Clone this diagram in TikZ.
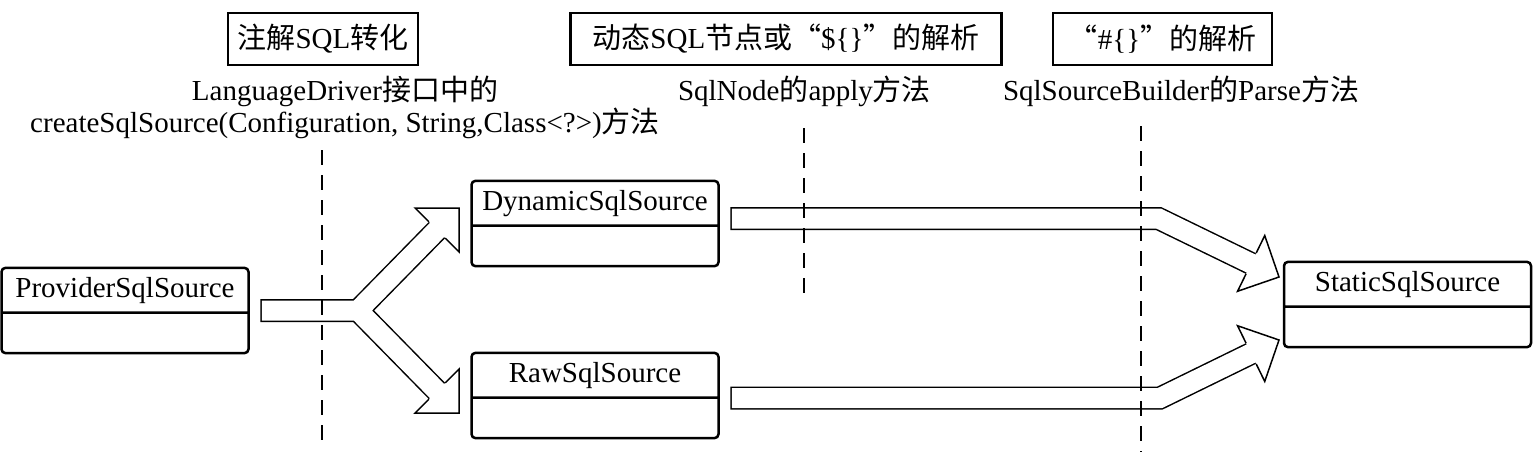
\documentclass[tikz,border=0pt]{standalone}
\usepackage{fontspec}
\setmainfont{Liberation Serif}
\newfontfamily\cjk{Noto Sans CJK SC}
\usetikzlibrary{shapes.multipart,calc}

\begin{document}
\begin{tikzpicture}[x=0.5pt, y=-0.5pt, font=\fontsize{14.5pt}{16pt}\selectfont,
  cls/.style = {draw, line width=1.25pt, rounded corners=2pt, rectangle split, rectangle split parts=2, minimum width=123.5pt, inner ysep=4pt, rectangle split empty part height=11pt},
  tag/.style = {draw, line width=1.25pt, minimum height=26pt, inner sep=0pt},
  fat/.style = {draw, line width=0.75pt, double, double distance=10pt, line cap=rect},
  head/.style = {line width=0.75pt},
  sep/.style = {line width=0.75pt, dash pattern=on 7.5pt off 5pt}]
\useasboundingbox (0,0) rectangle (1536,456);

% classes
\node[cls] (prov) at (125,310.5) {ProviderSqlSource};
\node[cls] (dyn) at (595,223.5) {DynamicSqlSource};
\node[cls] (raw) at (595,395.5) {RawSqlSource};
\node[cls] (stat) at (1407.5,304.5) {StaticSqlSource};

% stages
\node[tag, minimum width=95pt] (t1) at (323,39) {{\cjk 注解}SQL{\cjk 转化}};
\node[tag, minimum width=215.5pt] (t2) at (786,39) {{\cjk 动态}SQL{\cjk 节点或“}\$\{\}{\cjk ”的解析}};
\node[tag, minimum width=109.5pt] (t3) at (1162.5,39) {{\cjk “}\#\{\}{\cjk ”的解析}};
\node[anchor=base, align=center] (m1) at (345,132) {LanguageDriver{\cjk 接口中的}\\createSqlSource(Configuration, String,Class<?>){\cjk 方法}};
\node[anchor=base] (m2) at (804.5,100) {SqlNode{\cjk 的}apply{\cjk 方法}};
\node[anchor=base] (m3) at (1181,100) {SqlSourceBuilder{\cjk 的}Parse{\cjk 方法}};

% fat arrows
\coordinate (p0) at ($(prov.east)+(22,0)$);
\coordinate (fk) at (358,310.5);
\coordinate (d1) at (437,230);
\coordinate (dtip) at (459,208);
\coordinate (r1) at (437,391);
\coordinate (rtip) at (459,413);
\draw[fat] (p0) -- (fk) -- (d1) (p0) -- (fk) -- (r1);

\coordinate (s0) at ($(dyn.east)+(22,-5)$);
\coordinate (sb) at (1158.5,218.5);
\coordinate (s1) at (1251,263.5);
\coordinate (stip) at (1279,277);
\draw[fat] (s0) -- (sb) -- (s1);

\coordinate (q0) at ($(raw.east)+(22,2.5)$);
\coordinate (qb) at (1160,398);
\coordinate (q1) at (1251,353.5);
\coordinate (qtip) at (1279,340);
\draw[fat] (q0) -- (qb) -- (q1);

\foreach \t/\a in {dtip/45, rtip/-45, stip/-26, qtip/26}{
  \begin{scope}[shift={(\t)}, rotate=\a]
    \fill[white] (0,0) -- (-31,31) -- (-31,-31) -- cycle;
    \draw[head] (-31,11.5) -- (-31,31) -- (0,0) -- (-31,-31) -- (-31,-11.5);
  \end{scope}
}

% stage borders
\foreach \x/\a/\b in {322/150/445, 804/128/298, 1141/126/452}
  \draw[sep] (\x,\a) -- (\x,\b);
\end{tikzpicture}
\end{document}
